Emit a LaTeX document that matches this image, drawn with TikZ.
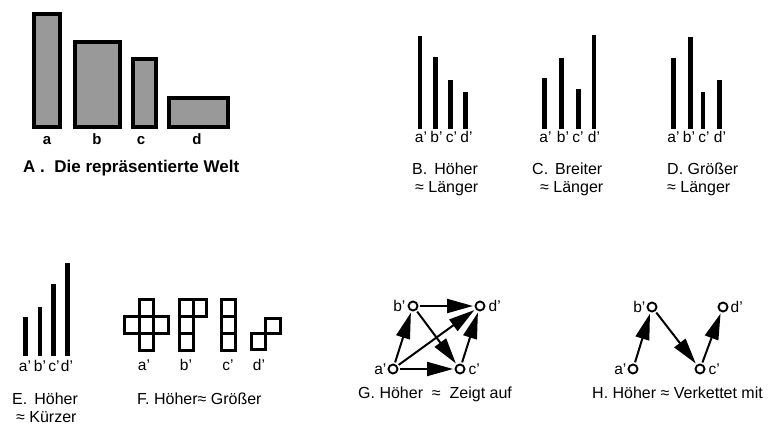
\documentclass[tikz,border=0pt]{standalone}
\usepackage{fontspec}
\setmainfont{Liberation Sans}
\usetikzlibrary{arrows.meta}
\begin{document}
\begin{tikzpicture}[x=1pt,y=-1pt,
  captxt/.style={anchor=base west, inner sep=0pt, font=\fontsize{16}{19}\selectfont},
  lab/.style={anchor=base, inner sep=0pt, font=\fontsize{15.5}{18}\selectfont},
  blab/.style={anchor=base, inner sep=0pt, font=\fontsize{15}{18}\selectfont\bfseries},
  world/.style={draw=black, line width=4pt, fill=black!40},
  stick/.style={line width=4.8pt},
  cell/.style={draw, line width=3pt},
  pt/.style={circle, draw, line width=1.9pt, minimum size=9pt, inner sep=0pt},
  ptl/.style={font=\fontsize{15.5}{18}\selectfont, inner sep=0pt},
  arr/.style={line width=2pt, -{Triangle[length=26pt,width=14pt]}, shorten >=1.5pt, shorten <=1.5pt}
]
\useasboundingbox (0,0) rectangle (773,428);

% ---------- A ----------
\draw[world] (34,14) rectangle (60,127);
\draw[world] (75,42) rectangle (120,127);
\draw[world] (133,59) rectangle (156,127);
\draw[world] (169,98) rectangle (228,127);
\node[blab] (la) at (47,144) {a};
\node[blab] (lb) at (97,144) {b};
\node[blab] (lc) at (141,144) {c};
\node[blab] (ld) at (197,144) {d};
\node[anchor=base west, inner sep=0pt, font=\fontsize{17}{20}\selectfont\bfseries] (tA) at (23,172) {A .\ \ Die repräsentierte Welt};

% ---------- B ----------
\draw[stick] (420,129) -- (420,36);
\draw[stick] (435.5,129) -- (435.5,57);
\draw[stick] (450.5,129) -- (450.5,80);
\draw[stick] (465.5,129) -- (465.5,92);
\node[lab] (b1) at (421,142) {a'};
\node[lab] (b2) at (436.5,142) {b'};
\node[lab] (b3) at (451.5,142) {c'};
\node[lab] (b4) at (466.5,142) {d'};
\node[captxt] (tB1) at (412,174) {B.\hspace{7pt}Höher};
\node[captxt] (tB2) at (415,192) {≈ Länger};

% ---------- C ----------
\draw[stick] (544.7,129) -- (544.7,78);
\draw[stick] (561.7,129) -- (561.7,58);
\draw[stick] (578.7,129) -- (578.7,89);
\draw[stick] (594,129) -- (594,35);
\node[lab] (c1) at (545.5,142) {a'};
\node[lab] (c2) at (563,142) {b'};
\node[lab] (c3) at (578,142) {c'};
\node[lab] (c4) at (594,142) {d'};
\node[captxt] (tC1) at (532,174) {C.\hspace{7pt}Breiter};
\node[captxt] (tC2) at (540,192) {≈ Länger};

% ---------- D ----------
\draw[stick] (673.3,129) -- (673.3,58);
\draw[stick] (690.5,129) -- (690.5,37);
\draw[stick] (703,129) -- (703,92);
\draw[stick] (719.7,129) -- (719.7,80);
\node[lab] (d1) at (673.5,142) {a'};
\node[lab] (d2) at (689,142) {b'};
\node[lab] (d3) at (704,142) {c'};
\node[lab] (d4) at (720,142) {d'};
\node[captxt] (tD1) at (667,174) {D. Größer};
\node[captxt] (tD2) at (667,192) {≈ Länger};

% ---------- E ----------
\draw[stick] (25.3,356) -- (25.3,316.7);
\draw[stick] (40,356) -- (40,306.7);
\draw[stick] (53.3,356) -- (53.3,284.3);
\draw[stick] (67.2,356) -- (67.2,262.7);
\node[lab] (e1) at (25,371) {a'};
\node[lab] (e2) at (40,371) {b'};
\node[lab] (e3) at (54,371) {c'};
\node[lab] (e4) at (67,371) {d'};
\node[captxt] (tE1) at (12,404) {E.\hspace{7pt}Höher};
\node[captxt] (tE2) at (16,422) {≈ Kürzer};

% ---------- F ----------
% a' (plus)
\draw[cell] (139,299.5) rectangle (153.5,316.5);
\draw[cell] (124.5,316.5) rectangle (139,333.5);
\draw[cell] (139,316.5) rectangle (153.5,333.5);
\draw[cell] (153.5,316.5) rectangle (168,333.5);
\draw[cell] (139,333.5) rectangle (153.5,350.5);
% b'
\draw[cell] (179.5,299.5) rectangle (193,316.5);
\draw[cell] (193,299.5) rectangle (206.5,316.5);
\draw[cell] (179.5,316.5) rectangle (193,333.5);
\draw[cell] (179.5,333.5) rectangle (193,350.5);
% c'
\draw[cell] (221.5,299.5) rectangle (235,316.5);
\draw[cell] (221.5,316.5) rectangle (235,333.5);
\draw[cell] (221.5,333.5) rectangle (235,350.5);
% d'
\draw[cell] (265.5,318) rectangle (280,333);
\draw[cell] (251.5,333) rectangle (265.5,349.5);
\node[lab] (f1) at (144,370) {a'};
\node[lab] (f2) at (186,370) {b'};
\node[lab] (f3) at (228,370) {c'};
\node[lab] (f4) at (259,370) {d'};
\node[captxt] (tF) at (137,404) {F. Höher≈ Größer};

% ---------- G ----------
\node[pt, label={[ptl, label distance=2pt]left:b'}] (gb) at (413,306) {};
\node[pt, label={[ptl, label distance=3pt]right:d'}] (gd) at (480,306) {};
\node[pt, label={[ptl, label distance=1pt]left:a'}] (ga) at (393,369) {};
\node[pt, label={[ptl, label distance=3pt]right:c'}] (gc) at (460,369) {};
\draw[arr] (gb) -- (gd);
\draw[arr] (ga) -- (gc);
\draw[arr] (ga) -- (gb);
\draw[arr] (ga) -- (gd);
\draw[arr] (gb) -- (gc);
\draw[arr] (gc) -- (gd);
\node[captxt] (tG) at (358,398) {G. Höher\ \ ≈\ \ Zeigt auf};

% ---------- H ----------
\node[pt, label={[ptl, label distance=1pt]left:b'}] (hb) at (652,307) {};
\node[pt, label={[ptl, label distance=2pt]right:d'}] (hd) at (723,307) {};
\node[pt, label={[ptl, label distance=1pt]left:a'}] (ha) at (633,369) {};
\node[pt, label={[ptl, label distance=3pt]right:c'}] (hc) at (700,369) {};
\draw[arr] (ha) -- (hb);
\draw[arr] (hb) -- (hc);
\draw[arr] (hc) -- (hd);
\node[captxt] (tH) at (592,398) {H. Höher ≈ Verkettet mit};
\end{tikzpicture}
\end{document}
